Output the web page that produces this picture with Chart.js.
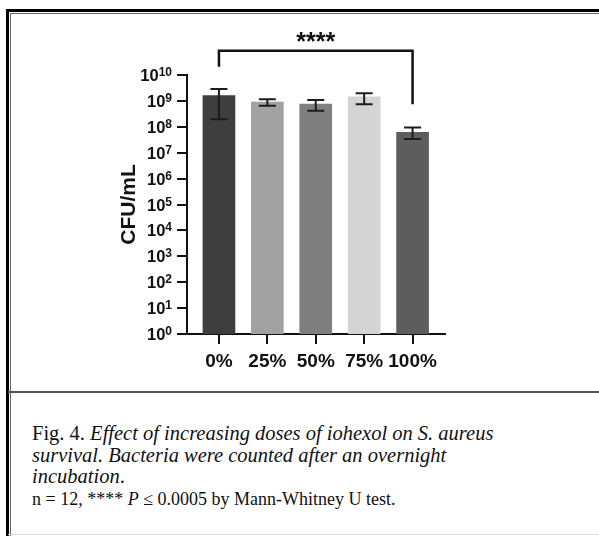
<!DOCTYPE html>
<html>
<head>
<meta charset="utf-8">
<script src="https://cdn.jsdelivr.net/npm/chart.js@4"></script>
<style>
  html, body { margin: 0; padding: 0; background: #fff; }
  body { width: 599px; height: 536px; position: relative; overflow: hidden; }
  #frameOuter { position: absolute; left: 6px; top: 9px; right: -10px; bottom: -10px;
    border-top: 3px solid #000; border-left: 3px solid #000; }
  #frameInner { position: absolute; left: 10px; top: 13px; right: -10px; bottom: -10px;
    border-top: 1.5px solid #666; border-left: 1.5px solid #666; }
  #sep { position: absolute; left: 8px; right: 0; top: 390.5px; height: 2.3px; background: #555; }
  #bottomLine { position: absolute; left: 8px; right: 0; top: 534px; height: 1px; background: #ddd; }
  #graph { position: absolute; left: 0; top: 0; }
  #caption { position: absolute; left: 32px; top: 423px; width: 485px;
    font-family: "Liberation Serif", serif; font-size: 20.5px; line-height: 21.5px; color: #111; }
  #caption .small { font-size: 18px; }
</style>
</head>
<body>
<div id="frameOuter"></div>
<div id="frameInner"></div>
<canvas id="graph" width="599" height="390"></canvas>
<div id="sep"></div>
<div id="bottomLine"></div>
<div id="caption">
  Fig. 4. <i>Effect of increasing doses of iohexol on S. aureus survival. Bacteria were counted after an overnight incubation</i>.<br>
  <span class="small">n = 12, **** <i>P</i> ≤ 0.0005 by Mann-Whitney U test.</span>
</div>
<script>
const canvas = document.getElementById('graph');

// doses of iohexol
const categories = ['0%', '25%', '50%', '75%', '100%'];
// CFU/mL
const means = [1.6e9, 9.1e8, 7.6e8, 1.45e9, 6.1e7];
const errHigh = [2.9e9, 1.17e9, 1.08e9, 1.96e9, 9.3e7];
const errLow = [1.95e8, 6.5e8, 4.2e8, 7.4e8, 3.4e7];
const barColors = ['#3e3e3e', '#a2a2a2', '#7f7f7f', '#d4d4d4', '#5d5d5d'];
const yTickValues = [1, 1e1, 1e2, 1e3, 1e4, 1e5, 1e6, 1e7, 1e8, 1e9, 1e10];

const FONT = '"Liberation Sans", Arial, sans-serif';

// y tick labels as 10 with a raised exponent
const powerLabels = {
    id: 'powerLabels',
    afterDraw(chart) {
        const ctx = chart.ctx;
        const y = chart.scales.y;
        const right = chart.chartArea.left - 15;
        ctx.save();
        ctx.fillStyle = '#111';
        ctx.textAlign = 'right';
        ctx.textBaseline = 'alphabetic';
        y.ticks.forEach(t => {
            const py = y.getPixelForValue(t.value);
            const exp = String(Math.round(Math.log10(t.value)));
            ctx.font = 'bold 12px ' + FONT;
            const ew = ctx.measureText(exp).width;
            ctx.fillText(exp, right, py + 1);
            ctx.font = 'bold 16.5px ' + FONT;
            ctx.fillText('10', right - ew, py + 6);
        });
        ctx.restore();
    }
};

const errorBars = {
    id: 'errorBars',
    afterDatasetsDraw(chart) {
        const ctx = chart.ctx;
        const x = chart.scales.x;
        const y = chart.scales.y;
        ctx.save();
        ctx.strokeStyle = '#1c1c1c';
        ctx.lineWidth = 2;
        for (let i = 0; i < means.length; i++) {
            const px = x.getPixelForValue(i);
            const top = y.getPixelForValue(errHigh[i]);
            const bot = y.getPixelForValue(errLow[i]);
            ctx.beginPath();
            ctx.moveTo(px, top);
            ctx.lineTo(px, bot);
            ctx.moveTo(px - 8.5, top);
            ctx.lineTo(px + 8.5, top);
            ctx.moveTo(px - 8.5, bot);
            ctx.lineTo(px + 8.5, bot);
            ctx.stroke();
        }
        ctx.restore();
    }
};

// significance bracket between 0% and 100%
const bracket = {
    id: 'bracket',
    afterDraw(chart) {
        const ctx = chart.ctx;
        const x = chart.scales.x;
        const y = chart.scales.y;
        const x1 = x.getPixelForValue(0);
        const x2 = x.getPixelForValue(4);
        const yTop = y.getPixelForValue(8.7e10);
        ctx.save();
        ctx.strokeStyle = '#111';
        ctx.lineWidth = 2.5;
        ctx.beginPath();
        ctx.moveTo(x1, y.getPixelForValue(2.1e10));
        ctx.lineTo(x1, yTop);
        ctx.lineTo(x2, yTop);
        ctx.lineTo(x2, y.getPixelForValue(7.4e8));
        ctx.stroke();
        ctx.fillStyle = '#111';
        ctx.font = 'bold 25px ' + FONT;
        ctx.textAlign = 'center';
        ctx.textBaseline = 'alphabetic';
        ctx.fillText('****', (x1 + x2) / 2, yTop - 1);
        ctx.restore();
    }
};

new Chart(canvas, {
    type: 'bar',
    data: {
        datasets: [{
            data: means.map((v, i) => ({ x: i, y: v })),
            backgroundColor: barColors,
            borderWidth: 0,
            barThickness: 32
        }]
    },
    options: {
        responsive: false,
        animation: false,
        devicePixelRatio: 1,
        layout: { padding: { left: 113, top: 75, right: 154, bottom: 16 } },
        plugins: { legend: { display: false }, tooltip: { enabled: false } },
        scales: {
            x: {
                type: 'linear',
                offset: false,
                min: -0.66,
                max: 4.67,
                afterBuildTicks: scale => { scale.ticks = categories.map((c, i) => ({ value: i })); },
                afterFit: scale => { scale.height = 40; },
                ticks: {
                    callback: v => categories[v],
                    color: '#111',
                    padding: 6,
                    maxRotation: 0,
                    autoSkip: false,
                    font: { family: FONT, weight: 'bold', size: 19 }
                },
                grid: { offset: false, drawOnChartArea: false, tickLength: 10, tickColor: '#111', lineWidth: 2 },
                border: { color: '#111', width: 2 }
            },
            y: {
                type: 'logarithmic',
                min: 1,
                max: 1e10,
                afterBuildTicks: scale => { scale.ticks = yTickValues.map(v => ({ value: v })); },
                afterFit: scale => { scale.width = 74; },
                ticks: { display: false },
                grid: { drawOnChartArea: false, tickLength: 10, tickColor: '#111', lineWidth: 2 },
                border: { color: '#111', width: 2 },
                title: {
                    display: true,
                    text: 'CFU/mL',
                    color: '#111',
                    padding: { top: 4, bottom: 0 },
                    font: { family: FONT, weight: 'bold', size: 21 }
                }
            }
        }
    },
    plugins: [errorBars, bracket, powerLabels]
});
</script>
</body>
</html>
